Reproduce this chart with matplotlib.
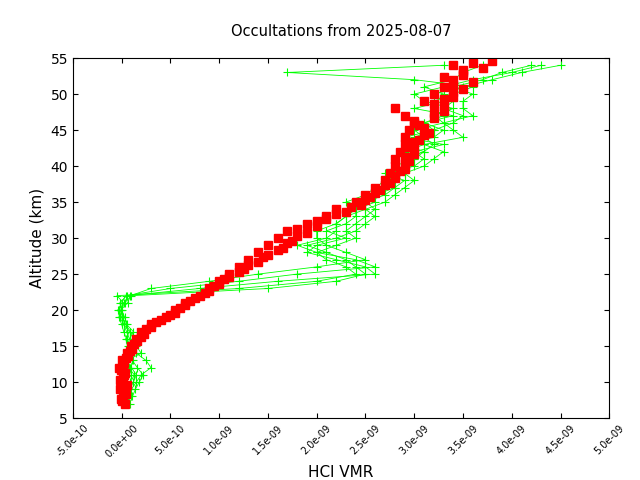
import matplotlib
matplotlib.use("Agg")
import matplotlib.pyplot as plt
import numpy as np

alts = np.arange(7, 55)

# HCl VMR in units of 1e-10, one row per occultation
green_profiles = [
    [0.5, 1, 0.8, 1.2, 1.5, 1, 0.5, 2, 1.5, 0.8, 0.5, 0.2, 0, -0.3, 0.2, -0.5,
     12, 20, 24, 23, 21, 20, 22, 24,
     23, 24, 25, 26, 25, 27, 28, 27, 29, 28,
     30, 31, 29, 32, 33, 31, 34, 30,
     33, 32, 35, 38, 41, 45],
    [0.2, 0.5, 1, 1.5, 2, 3, 2.5, 1.5, 1, 0.8, 1.2, 0.5, 0.3, 0, -0.2, 0.5,
     8, 16, 26, 25, 22, 19, 20, 23,
     21, 23, 24, 24, 26, 26, 27, 28, 28, 29,
     29, 31, 32, 31, 30, 33, 32, 34,
     31, 30, 33, 36, 40, 43],
    [0, 0.3, 0.6, 0.4, 1, 0.8, 1.2, 1, 0.6, 0.4, 0.8, 0.2, -0.2, -0.4, 0, 0.4,
     5, 12, 18, 26, 24, 20, 18, 21,
     22, 22, 23, 25, 24, 26, 28, 29, 27, 30,
     31, 30, 33, 29, 32, 34, 35, 33,
     34, 33, 31, 34, 35, 37],
    [0.8, 1.1, 1.4, 1.8, 2.2, 1.6, 1.1, 0.9, 0.7, 1.3, 0.9, 0.4, 0.1, -0.1, 0.3, 1,
     15, 22, 25, 24, 23, 21, 19, 22,
     24, 25, 26, 25, 27, 28, 29, 30, 29, 31,
     32, 33, 31, 35, 34, 33, 36, 35,
     35, 36, 34, 37, 39, 42],
    [0.4, 0.6, 0.2, 0.9, 1.3, 0.7, 0.4, 0.6, 1.1, 0.5, 0.2, 0, -0.3, -0.1, 0.6, 0.9,
     3, 9, 14, 20, 25, 23, 21, 20,
     20, 22, 23, 24, 23, 25, 26, 27, 28, 29,
     30, 29, 31, 30, 32, 31, 33, 32,
     32, 34, 36, 30, 17, 33],
]

red_profiles = [
    [0.3, 0.1, -0.2, 0, 0.2, -0.3, 0, 0.5, 1, 1.5, 2, 3, 4.5, 5.5, 6.5, 8,
     9, 10, 11, 12, 13, 14, 15, 16,
     17, 19, 21, 22, 24, 25, 26, 27, 27.5, 28,
     28, 28.5, 29, 29, 29.5, 30, 29, 28,
     31, 32, 33, 34, 35, 34],
    [0, 0.4, 0.2, -0.2, 0.3, 0.1, 0.4, 0.8, 1.3, 2, 2.5, 3.5, 5, 6, 7, 8.5,
     9.5, 10.5, 12, 13, 14.5, 16, 17, 18,
     18, 20, 22, 23.5, 25, 26, 27, 28, 28.5, 29,
     29, 30, 30, 31, 31, 30, 32, 33,
     33, 34, 34, 33, 35, 36],
    [-0.1, 0.2, 0.5, 0.1, -0.1, 0.2, 0.6, 1.1, 1.6, 2.3, 3, 4, 5.5, 6.5, 7.5, 9,
     10, 11, 12.5, 14, 15, 16.5, 17.5, 19,
     20, 21, 23, 24.5, 25.5, 26.5, 27.5, 28, 29, 29.5,
     30, 29.5, 30.5, 31.5, 30.5, 32, 33, 32,
     34, 35, 36, 35, 37, 38],
]

fig = plt.figure(figsize=(6.4, 4.8), dpi=100)
ax = fig.add_axes([0.114, 0.129, 0.838, 0.75])

for prof in green_profiles:
    ax.plot(np.array(prof) * 1e-10, alts, "+-", color="#00ff00", lw=0.6, ms=6, mew=0.8)
for i, prof in enumerate(red_profiles):
    ax.plot(np.array(prof) * 1e-10, alts + 0.33 * i, "s", color="#ff0000", ms=6, ls="none")

ax.set_xlim(-5e-10, 5e-9)
ax.set_ylim(5, 55)
xt = np.arange(-5e-10, 5.01e-9, 5e-10)
ax.set_xticks(xt)
ax.set_xticklabels(["%.1e" % v if abs(v) > 1e-12 else "0.0e+00" for v in xt],
                   rotation=45, fontsize=7)
ax.set_yticks(np.arange(5, 56, 5))
ax.tick_params(direction="in", top=True, right=True, labelsize=10)
ax.tick_params(axis="x", labelsize=7)
ax.set_xlabel("HCl VMR", fontsize=11)
ax.set_ylabel("Altitude (km)", fontsize=11)
ax.set_title("Occultations from 2025-08-07", fontsize=10.5, pad=16)
fig.savefig("out.png")
